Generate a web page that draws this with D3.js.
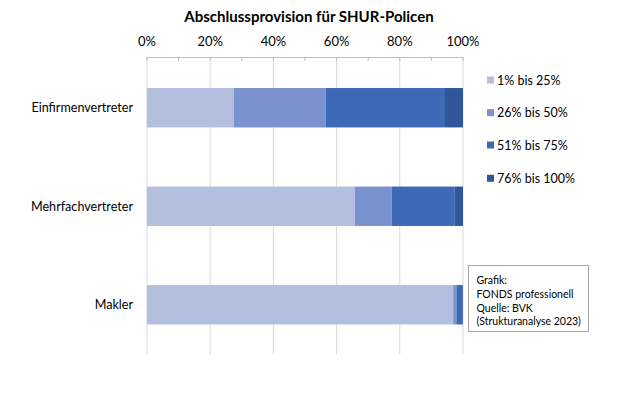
<!DOCTYPE html>
<html><head><meta charset="utf-8">
<script src="https://cdn.jsdelivr.net/npm/d3@7"></script>
<style>body{margin:0;background:#fff;} svg{display:block;font-family:Lato,"Open Sans",sans-serif;}</style>
</head><body>
<svg id="c" width="620" height="413"></svg>
<script>
const categories = ["Einfirmenvertreter", "Mehrfachvertreter", "Makler"];
const seriesNames = ["1% bis 25%", "26% bis 50%", "51% bis 75%", "76% bis 100%"];
const s1 = [27.5, 65.8, 96.9];
const s2 = [29.0, 11.6, 1.0];
const s3 = [37.8, 20.0, 1.9];
const s4 = [5.7, 2.6, 0.2];
const colors = ["#b4bfe0", "#7a92ce", "#3e69b7", "#30579a"];
const tickValues = [0, 20, 40, 60, 80, 100];
const minorTicks = [10, 30, 50, 70, 90];

const svg = d3.select("#c");
const x = d3.scaleLinear().domain([0, 100]).range([147, 463]);
const y = d3.scaleBand().domain(categories).range([57, 355.5]).paddingInner(0.6).paddingOuter(0.315);

const rows = categories.map((c, i) => ({cat: c, v: [s1[i], s2[i], s3[i], s4[i]]}));

// gridlines
svg.append("g").selectAll("line").data(tickValues).join("line")
  .attr("x1", d => x(d)).attr("x2", d => x(d))
  .attr("y1", 57).attr("y2", 354)
  .attr("stroke", "#d9d9d9").attr("stroke-width", 1);

// top axis line and minor ticks
svg.append("line").attr("x1", x(0)).attr("x2", x(100)).attr("y1", 57.5).attr("y2", 57.5)
  .attr("stroke", "#bfbfbf");
svg.append("g").selectAll("line").data(tickValues.concat(minorTicks)).join("line")
  .attr("x1", d => x(d)).attr("x2", d => x(d)).attr("y1", 57).attr("y2", 61)
  .attr("stroke", "#bfbfbf");

// tick labels
svg.append("g").selectAll("text").data(tickValues).join("text")
  .attr("x", d => x(d)).attr("y", 46).attr("text-anchor", "middle")
  .attr("font-size", 13).attr("fill", "#000").text(d => d + "%");

// bars
const g = svg.append("g");
rows.forEach(r => {
  let acc = 0;
  r.v.forEach((v, j) => {
    g.append("rect").attr("x", x(acc)).attr("width", x(acc + v) - x(acc))
      .attr("y", y(r.cat)).attr("height", y.bandwidth()).attr("fill", colors[j]);
    acc += v;
  });
});

// category labels
svg.append("g").selectAll("text").data(categories).join("text")
  .attr("x", 133).attr("y", d => y(d) + y.bandwidth() / 2 + 4.5)
  .attr("text-anchor", "end").attr("font-size", 12.6).attr("fill", "#000").text(d => d);

// title
svg.append("text").attr("x", 309).attr("y", 22).attr("text-anchor", "middle")
  .attr("font-size", 15).attr("font-weight", "bold").attr("fill", "#000")
  .text("Abschlussprovision für SHUR-Policen");

// legend
const legY = [80, 112.7, 145, 178.3];
const lg = svg.append("g");
seriesNames.forEach((n, i) => {
  lg.append("rect").attr("x", 487).attr("y", legY[i] - 3.5).attr("width", 7).attr("height", 7).attr("fill", colors[i]);
  lg.append("text").attr("x", 497).attr("y", legY[i] + 4.5).attr("font-size", 12.5).attr("fill", "#000").text(n);
});

// source box
svg.append("rect").attr("x", 468.5).attr("y", 265.5).attr("width", 120).attr("height", 66)
  .attr("fill", "#fff").attr("stroke", "#a6a6a6");
const src = ["Grafik:", "FONDS professionell", "Quelle: BVK", "(Strukturanalyse 2023)"];
svg.append("g").selectAll("text").data(src).join("text")
  .attr("x", 476.5).attr("y", (d, i) => 284 + i * 13.8).attr("font-size", 10.5).attr("fill", "#000").text(d => d);
</script>
</body></html>
